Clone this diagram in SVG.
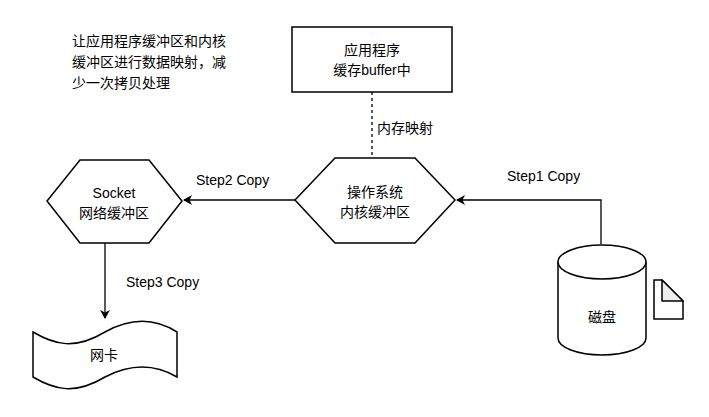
<svg xmlns="http://www.w3.org/2000/svg" width="709" height="417" viewBox="0 0 709 417">
<style>
.s{fill:#fff;stroke:#000;stroke-width:1.5}
.t{font-family:"Liberation Sans","Noto Sans CJK SC",sans-serif;font-size:14px;fill:#000}
.c{stroke:#000;stroke-width:1.3;fill:none}
</style>
<defs><marker id="a" markerWidth="10" markerHeight="10" refX="8" refY="5" orient="auto" markerUnits="userSpaceOnUse"><path d="M0,0 L9,5 L0,10 L2.5,5 Z" fill="#000"/></marker></defs>
<rect width="709" height="417" fill="#fff"/>
<g id="note"><text class="t" x="72" y="46">让应用程序缓冲区和内核</text><text class="t" x="72" y="67">缓冲区进行数据映射，减</text><text class="t" x="72" y="88">少一次拷贝处理</text></g>
<g id="app"><rect class="s" x="292" y="27" width="160" height="65"/><text class="t" x="372" y="55" text-anchor="middle">应用程序</text><text class="t" x="372" y="75" text-anchor="middle">缓存buffer中</text></g>
<g id="os"><path class="s" d="M335,158 H415 L455,200 L415,243 H335 L295,200 Z"/><text class="t" x="375" y="197" text-anchor="middle">操作系统</text><text class="t" x="375" y="217" text-anchor="middle">内核缓冲区</text></g>
<g id="socket"><path class="s" d="M80,160 H149 L182,201 L149,243 H80 L47,201 Z"/><text class="t" x="114" y="198" text-anchor="middle">Socket</text><text class="t" x="114" y="218" text-anchor="middle">网络缓冲区</text></g>
<g id="nic"><path class="s" d="M33,332 C55,345 75,350 105,332 C130,318 155,318 177,332 V377 C155,364 130,364 105,377 C75,395 55,390 33,377 Z"/><text class="t" x="104" y="360" text-anchor="middle">网卡</text></g>
<g id="disk"><path class="s" d="M558,262 V338 A44,17 0 0 0 646,338 V262 A44,17 0 0 0 558,262 Z"/><path class="c" style="stroke-width:1.5" d="M558,262 A44,17 0 0 0 646,262"/><text class="t" x="602" y="322" text-anchor="middle">磁盘</text></g>
<g id="doc"><path class="s" d="M654,280 H662 L683,301 V319 H654 Z"/><path d="M662,280 V301 H683 Z" fill="#eee" stroke="#000" stroke-width="1.5" stroke-linejoin="round"/></g>
<g id="connectors">
<path class="c" d="M372,92 V158" stroke-dasharray="3,3"/>
<path class="c" d="M295,200 H184" marker-end="url(#a)"/>
<path class="c" d="M601,244 V200 H457" marker-end="url(#a)"/>
<path class="c" d="M105,243 V318" marker-end="url(#a)"/>
<text class="t" x="377" y="133">内存映射</text>
<text class="t" x="196" y="185">Step2 Copy</text>
<text class="t" x="507" y="181">Step1 Copy</text>
<text class="t" x="126" y="287">Step3 Copy</text>
</g>
</svg>
